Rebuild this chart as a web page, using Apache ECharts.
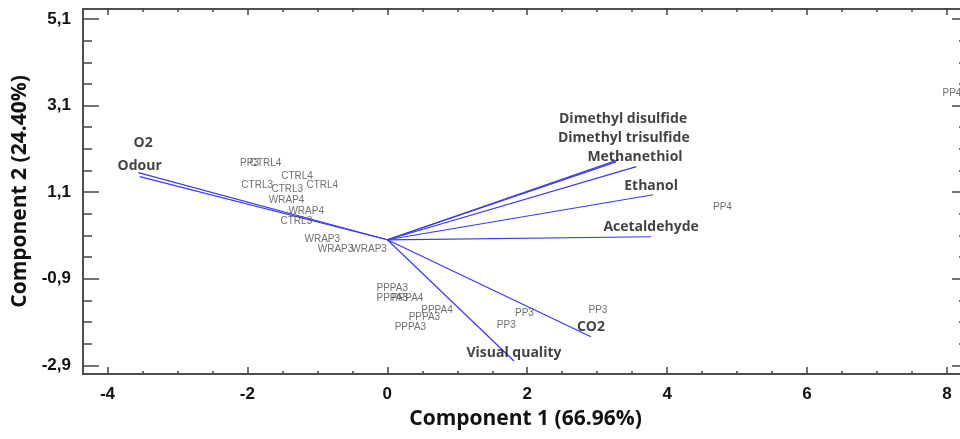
<!DOCTYPE html>
<html>
<head>
<meta charset="utf-8">
<script src="https://cdn.jsdelivr.net/npm/echarts@6/dist/echarts.min.js"></script>
<style>
  html, body {margin: 0; padding: 0; background: #fff;}
  #main {width: 960px; height: 439px;}
</style>
</head>
<body>
<div id="main"></div>
<script>
// observations (scores)
const obsNames = ['PP3', 'CTRL4', 'CTRL4', 'CTRL3', 'CTRL3', 'CTRL4', 'WRAP4', 'WRAP4', 'CTRL3', 'WRAP3', 'WRAP3', 'WRAP3',
    'PPPA3', 'PPPA3', 'PPPA4', 'PPPA4', 'PPPA3', 'PPPA3', 'PP3', 'PP3', 'PP3', 'PP4', 'PP4'];
const obsX = [-1.97, -1.74, -1.29, -1.86, -1.43, -0.93, -1.44, -1.16, -1.30, -0.93, -0.74, -0.26,
    0.07, 0.07, 0.29, 0.71, 0.53, 0.33, 1.96, 1.70, 3.01, 4.79, 8.07];
const obsY = [1.76, 1.76, 1.46, 1.25, 1.16, 1.25, 0.92, 0.67, 0.42, 0.02, -0.23, -0.23,
    -1.11, -1.34, -1.34, -1.62, -1.80, -2.03, -1.69, -1.97, -1.62, 0.74, 3.38];

// variables (loadings)
const varNames = ['O2', 'Odour', 'Dimethyl disulfide', 'Dimethyl trisulfide', 'Methanethiol', 'Ethanol', 'Acetaldehyde', 'CO2', 'Visual quality'];
const varX = [-3.56, -3.54, 3.31, 3.27, 3.56, 3.80, 3.77, 2.91, 1.81];
const varY = [1.55, 1.46, 1.85, 1.80, 1.69, 1.04, 0.07, -2.24, -2.80];
// where each variable name sits
const varLabelX = [-3.49, -3.54, 3.37, 3.38, 3.54, 3.77, 3.77, 2.91, 1.81];
const varLabelY = [2.24, 1.71, 2.80, 2.34, 1.92, 1.25, 0.30, -2.01, -2.61];

const xTicks = [-4, -2, 0, 2, 4, 6, 8];
const yTicks = [-2.9, -0.9, 1.1, 3.1, 5.1];
const xMinor = [];
for (let v = -4; v <= 8; v += 0.5) xMinor.push(v);
const yMinor = [];
for (let v = -2.9; v <= 5.1; v += 0.5) yMinor.push(+v.toFixed(2));

const xMin = -4.35, xMax = 8.3, yMin = -3.1, yMax = 5.33;

const chartDom = document.getElementById('main');
const myChart = echarts.init(chartDom);

const axisColor = '#444';
const tickFont = {fontFamily: 'Liberation Sans', fontWeight: 'bold', fontSize: 17, color: '#111'};
const titleFont = {fontFamily: 'Open Sans', fontWeight: 'bold', fontSize: 21, color: '#111'};

function xAxis(position, ticks, len, withLabel) {
    return {
        type: 'value', position: position, min: xMin, max: xMax,
        splitLine: {show: false},
        axisLine: {show: true, onZero: false, lineStyle: {color: axisColor, width: 1.5}},
        axisTick: {show: true, inside: true, length: len, customValues: ticks, lineStyle: {color: axisColor, width: 1.5}},
        axisLabel: withLabel ? Object.assign({show: true, margin: 12, customValues: xTicks, formatter: v => String(v)}, tickFont) : {show: false}
    };
}

function yAxis(position, ticks, len, withLabel) {
    return {
        type: 'value', position: position, min: yMin, max: yMax,
        splitLine: {show: false},
        axisLine: {show: true, onZero: false, lineStyle: {color: axisColor, width: 1.5}},
        axisTick: {show: true, inside: true, length: len, customValues: ticks, lineStyle: {color: axisColor, width: 1.5}},
        axisLabel: withLabel ? Object.assign({show: true, margin: 12, customValues: yTicks, formatter: v => v.toFixed(1).replace('.', ',')}, tickFont) : {show: false}
    };
}

const xAxes = [
    xAxis('bottom', xTicks, 7, true),
    xAxis('bottom', xMinor, 3, false),
    xAxis('top', xTicks, 6, false),
    xAxis('top', xMinor, 3, false)
];
xAxes[0].name = 'Component 1 (66.96%)';
xAxes[0].nameLocation = 'middle';
xAxes[0].nameGap = 35;
xAxes[0].nameTextStyle = titleFont;

const yAxes = [
    yAxis('left', yTicks, 16, true),
    yAxis('left', yMinor, 9, false),
    yAxis('right', yTicks, 16, false),
    yAxis('right', yMinor, 9, false)
];
yAxes[0].name = 'Component 2 (24.40%)';
yAxes[0].nameLocation = 'middle';
yAxes[0].nameGap = 45;
yAxes[0].nameTextStyle = titleFont;

let option = {
    animation: false,
    grid: {left: 83, top: 9, width: 885, height: 365, containLabel: false, outerBoundsMode: 'none'},
    xAxis: xAxes,
    yAxis: yAxes,
    series: [
        {
            type: 'lines',
            coordinateSystem: 'cartesian2d',
            silent: true,
            lineStyle: {color: '#3a3ae6', width: 1.2, opacity: 1},
            data: varNames.map((n, i) => ({coords: [[0, 0], [varX[i], varY[i]]]}))
        },
        {
            type: 'scatter',
            symbolSize: 1,
            itemStyle: {color: 'rgba(0,0,0,0)'},
            label: {
                show: true, position: 'inside', formatter: p => p.name,
                fontFamily: 'Open Sans', fontWeight: 'bold', fontSize: 14, color: '#111'
            },
            data: varNames.map((n, i) => ({name: n, value: [varLabelX[i], varLabelY[i]]}))
        },
        {
            type: 'scatter',
            symbolSize: 1,
            itemStyle: {color: 'rgba(0,0,0,0)'},
            label: {
                show: true, position: 'inside', formatter: p => p.name,
                fontFamily: 'Liberation Sans', fontSize: 10, color: '#4a4a4a'
            },
            data: obsNames.map((n, i) => ({name: n, value: [obsX[i], obsY[i]]}))
        }
    ]
};

option && myChart.setOption(option);
</script>
</body>
</html>
